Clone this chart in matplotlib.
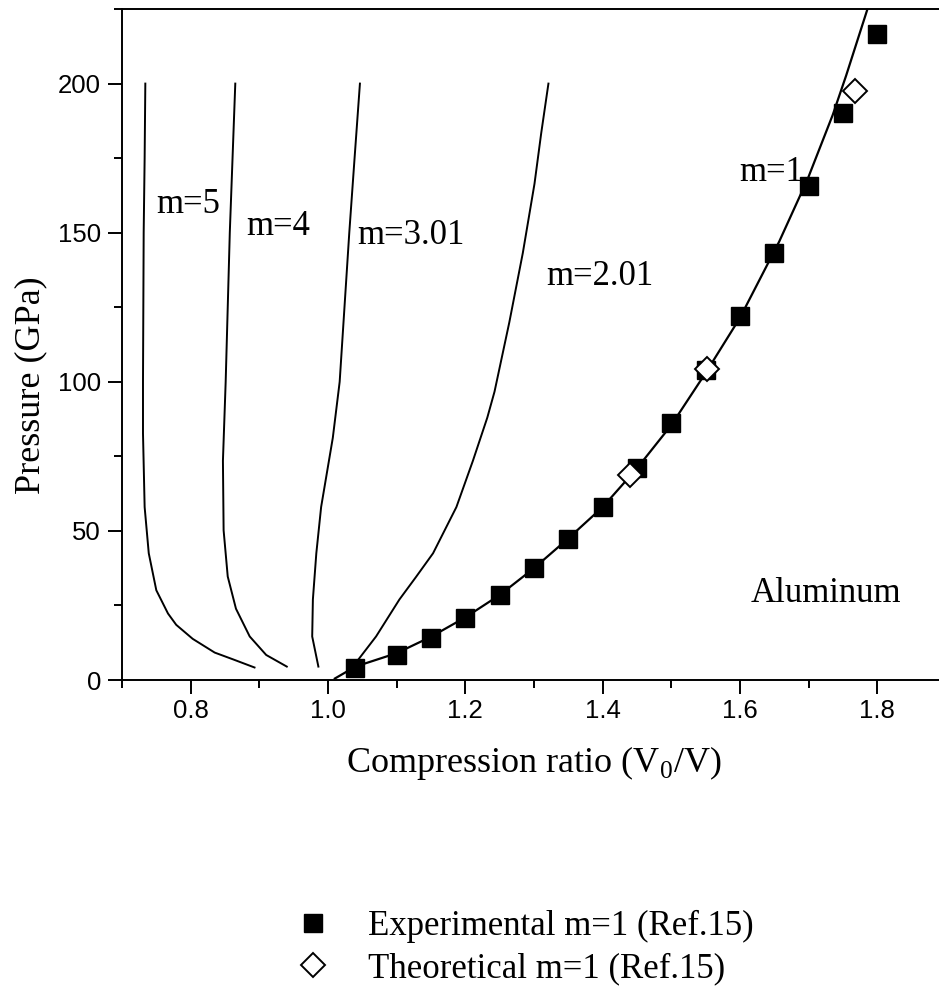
import matplotlib
matplotlib.use("Agg")
import matplotlib.pyplot as plt
from matplotlib.ticker import MultipleLocator

plt.rcParams['font.family'] = 'Liberation Serif'
plt.rcParams['mathtext.fontset'] = 'custom'
plt.rcParams['mathtext.rm'] = 'Liberation Serif'

# calculated isotherms, compression ratio vs pressure (GPa)
m5_x = [0.734, 0.733, 0.7316, 0.7306, 0.7306, 0.733, 0.739, 0.750, 0.767, 0.779, 0.803, 0.835, 0.862, 0.893]
m5_p = [200, 175, 150, 100, 82.7, 58, 42.5, 30.1, 22.3, 18.5, 13.8, 9.2, 6.9, 4.2]

m4_x = [0.865, 0.861, 0.857, 0.851, 0.847, 0.848, 0.854, 0.866, 0.886, 0.910, 0.940]
m4_p = [200, 175, 150, 100, 73.5, 50.2, 34.7, 23.9, 14.6, 8.4, 4.5]

m3_x = [1.0465, 1.0387, 1.031, 1.017, 1.007, 0.990, 0.983, 0.978, 0.977, 0.986]
m3_p = [200, 175, 150, 100, 81.2, 58, 42.5, 27, 14.6, 4.5]

m2_x = [1.321, 1.3105, 1.3007, 1.2837, 1.264, 1.2425, 1.232, 1.211, 1.187, 1.153, 1.128, 1.104, 1.070, 1.039]
m2_p = [200, 183.4, 166.4, 143.2, 119.9, 96.7, 88.0, 73.5, 58, 42.5, 34.5, 27, 14.6, 5.3]

m1_x = [1.01, 1.04, 1.10, 1.15, 1.20, 1.25, 1.30, 1.35, 1.40, 1.45, 1.50, 1.55,
        1.60, 1.657, 1.6985, 1.735, 1.7544, 1.786]
m1_p = [0.5, 4.5, 9.0, 14.5, 21, 28.5, 37.5, 47.5, 58, 71, 85.5, 103,
        121.5, 147, 168, 189.5, 202.6, 225.3]

# Ref.15 data
exp_x = [1.04, 1.10, 1.15, 1.20, 1.25, 1.30, 1.35, 1.40, 1.45, 1.50, 1.55, 1.60, 1.65, 1.70, 1.75, 1.80]
exp_p = [4.1, 8.4, 14.1, 20.8, 28.5, 37.4, 47.4, 58.0, 71.1, 86.2, 104.0, 122.2, 143.2, 165.6, 190.0, 216.7]

theo_x = [1.4405, 1.552, 1.767]
theo_p = [68.8, 104.4, 197.4]

curve_labels = ["m=5", "m=4", "m=3.01", "m=2.01", "m=1", "Aluminum"]
label_x = [0.7505, 0.881, 1.042, 1.3177, 1.599, 1.616]
label_p = [159.5, 152.1, 149.0, 135.4, 170.1, 29.1]

fig = plt.figure(figsize=(9.39, 9.93), dpi=100)
ax = fig.add_axes([0.1299, 0.3152, 0.8776, 0.6757])

for xs, ps in [(m5_x, m5_p), (m4_x, m4_p), (m3_x, m3_p), (m2_x, m2_p)]:
    ax.plot(xs, ps, color='black', lw=1.4)
ax.plot(m1_x, m1_p, color='black', lw=1.6)

sq, = ax.plot(exp_x, exp_p, ls='none', marker='s', ms=12.5, color='black')
di, = ax.plot(theo_x, theo_p, ls='none', marker='D', ms=12.5, mfc='white',
              mec='black', mew=1.4)

for txt, x, p in zip(curve_labels, label_x, label_p):
    ax.text(x, p, txt, ha='left', va='center', fontsize=25)

ax.set_xlim(0.7, 1.9)
ax.set_ylim(0, 225)
ax.xaxis.set_major_locator(MultipleLocator(0.2))
ax.xaxis.set_minor_locator(MultipleLocator(0.1))
ax.yaxis.set_major_locator(MultipleLocator(50))
ax.yaxis.set_minor_locator(MultipleLocator(25))
ax.set_xticks([0.8, 1.0, 1.2, 1.4, 1.6, 1.8])
ax.set_xticklabels(["0.8", "1.0", "1.2", "1.4", "1.6", "1.8"])

ax.tick_params(which='both', direction='out', width=1.4, labelsize=18.5,
               labelfontfamily='Liberation Sans')
ax.tick_params(which='major', length=10)
ax.tick_params(which='minor', length=5.5)
ax.tick_params(axis='y', pad=5)
ax.tick_params(axis='x', pad=4)

for s in ['left', 'bottom', 'top']:
    ax.spines[s].set_linewidth(1.4)
ax.spines['right'].set_visible(False)

ax.set_xlabel(r'Compression ratio (V$_{\mathrm{0}}$/V)', fontsize=26)
ax.set_ylabel('Pressure (GPa)', fontsize=26)
ax.xaxis.set_label_coords(0.5, -0.095)
ax.yaxis.set_label_coords(-0.09, 0.44)

ax.legend([sq, di], ["Experimental m=1 (Ref.15)", "Theoretical m=1 (Ref.15)"],
          loc='upper left', bbox_to_anchor=(0.3147, 0.0836),
          bbox_transform=fig.transFigure, frameon=False, fontsize=25,
          numpoints=1, handlelength=1.0, handletextpad=1.1,
          labelspacing=0.26, borderpad=0, borderaxespad=0)

fig.savefig("out.png", dpi=100)
